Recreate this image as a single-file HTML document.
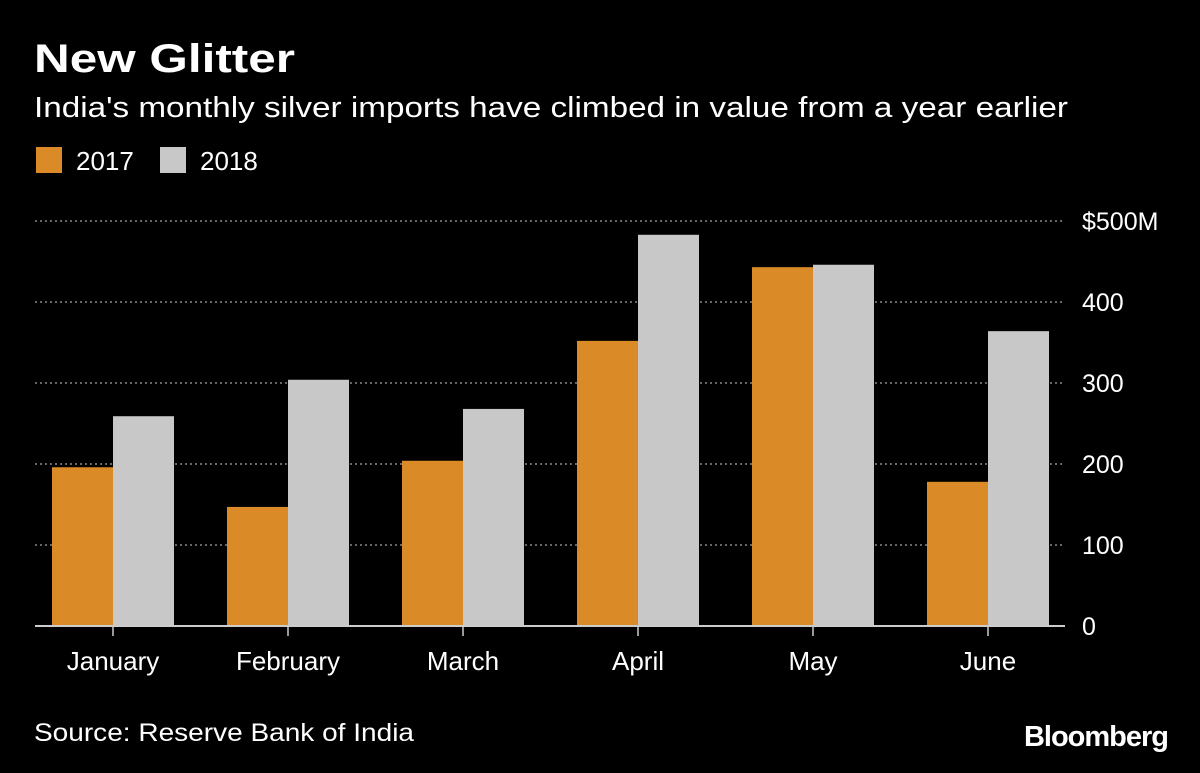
<!DOCTYPE html>
<html><head><meta charset="utf-8"><style>
body{margin:0;background:#000;width:1200px;height:768px;overflow:hidden;font-family:"Liberation Sans",sans-serif;}
</style></head><body>
<svg width="1200" height="768" xmlns="http://www.w3.org/2000/svg">
<text x="34" y="72" fill="#fff" font-size="40" font-weight="bold" textLength="261" lengthAdjust="spacingAndGlyphs">New Glitter</text>
<text x="34" y="117" fill="#fff" font-size="29" textLength="1034" lengthAdjust="spacingAndGlyphs">India's monthly silver imports have climbed in value from a year earlier</text>
<g>
<rect x="36" y="147" width="26" height="26" fill="#db8a28"/>
<text x="76" y="170" fill="#fff" font-size="26">2017</text>
<rect x="160" y="147" width="26" height="26" fill="#c8c8c8"/>
<text x="200" y="170" fill="#fff" font-size="26">2018</text>
</g>
<g id="grid"></g><g id="bars"></g><g id="axis"></g>
<text x="34" y="741" fill="#fff" font-size="25" textLength="380" lengthAdjust="spacingAndGlyphs">Source: Reserve Bank of India</text>
<text x="1168" y="746" fill="#fff" font-size="29" font-weight="bold" text-anchor="end" letter-spacing="-1">Bloomberg</text>
</svg>
<script>
const categories=["January","February","March","April","May","June"];
const values2017=[196,147,204,352,443,178];
const values2018=[259,304,268,483,446,364];
const yTicks=[0,100,200,300,400,500];
const yTickLabels=["0","100","200","300","400","$500M"];
const NS="http://www.w3.org/2000/svg";
const y0=626,yScale=405/500;
const y=v=>y0-v*yScale;
const xc=i=>113+i*175;
const bw=61;
function mk(tag,attrs,parent){const e=document.createElementNS(NS,tag);for(const k in attrs)e.setAttribute(k,attrs[k]);document.getElementById(parent).appendChild(e);return e;}
yTicks.forEach((t,i)=>{
 if(t>0){const l=mk('line',{x1:35,x2:1065,y1:y(t),y2:y(t),stroke:'#888','stroke-width':1.5,'stroke-dasharray':'2,3'},'grid');
 
 }
 const tx=mk('text',{x:1082,y:y(t)+9,fill:'#fff','font-size':25},'grid');tx.textContent=yTickLabels[i];
 
 
});
categories.forEach((c,i)=>{
 const a=mk('rect',{x:xc(i)-bw,y:y(values2017[i]),width:bw,height:values2017[i]*yScale,fill:'#db8a28'},'bars');
 
 
 const b=mk('rect',{x:xc(i),y:y(values2018[i]),width:bw,height:values2018[i]*yScale,fill:'#c8c8c8'},'bars');
 
 
 const tk=mk('line',{x1:xc(i),x2:xc(i),y1:y0,y2:y0+10,stroke:'#ccc','stroke-width':1.5},'axis');
 
 
 const lb=mk('text',{x:xc(i),y:670,fill:'#fff','font-size':26,'text-anchor':'middle'},'axis');lb.textContent=c;
 
 
});
const ax=mk('line',{x1:35,x2:1065,y1:y0,y2:y0,stroke:'#ccc','stroke-width':2},'axis');


</script>
</body></html>
